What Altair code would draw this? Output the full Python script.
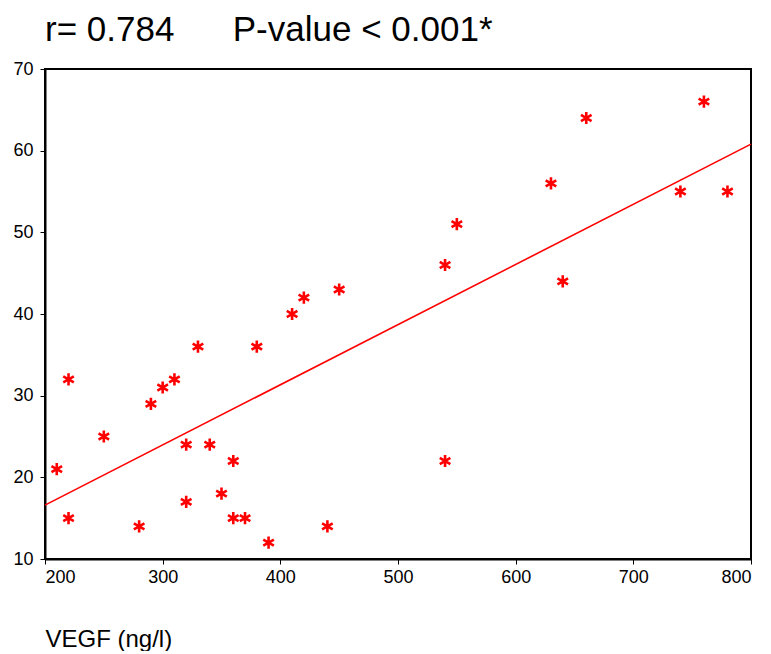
import altair as alt
import pandas as pd

vegf = [210, 220, 220, 250, 280, 290, 300, 310, 320, 320, 330, 340, 350, 360, 360,
        370, 380, 390, 410, 420, 440, 450, 540, 540, 550, 630, 640, 660, 740, 760, 780]
yval = [21, 32, 15, 25, 14, 29, 31, 32, 24, 17, 36, 24, 18, 22, 15,
        15, 36, 12, 40, 42, 14, 43, 46, 22, 51, 56, 44, 64, 55, 66, 55]

# fitted line
fit_x = [200, 800]
fit_y = [16.6, 60.8]

df = pd.DataFrame({"VEGF": vegf, "Y": yval})
fit = pd.DataFrame({"VEGF": fit_x, "Y": fit_y})

FONT = "Liberation Sans"
star = "M0,-1L0,1M-0.866,-0.5L0.866,0.5M-0.866,0.5L0.866,-0.5"

xs = alt.X("VEGF:Q", scale=alt.Scale(domain=[200, 800], nice=False, zero=False),
           axis=alt.Axis(values=[200, 300, 400, 500, 600, 700, 800], title="VEGF (ng/l)",
                         titleAnchor="start", titleAlign="left", titlePadding=41,
                         titleFontSize=24, titleFontWeight="normal", titleFont=FONT,
                         titleColor="black", labelFontSize=18, labelFont=FONT,
                         labelColor="black", tickSize=5, labelPadding=4,
                         domainColor="black", tickColor="black", grid=False))
ys = alt.Y("Y:Q", scale=alt.Scale(domain=[10, 70], nice=False, zero=False),
           axis=alt.Axis(values=[10, 20, 30, 40, 50, 60, 70], title=None,
                         labelFontSize=18, labelFont=FONT, labelColor="black",
                         tickSize=5, labelPadding=7, domainColor="black",
                         tickColor="black", grid=False))

pts = alt.Chart(df).mark_point(shape=star, filled=False, stroke="#ff0000",
                               strokeWidth=2.6, size=150, opacity=1).encode(x=xs, y=ys)

line = alt.Chart(fit).mark_line(color="#ff0000", strokeWidth=1.6).encode(x=xs, y=ys)

chart = (line + pts).properties(
    width=706, height=490,
    padding={"left": 4, "top": 5, "right": 5, "bottom": 0},
    title=alt.TitleParams("r= 0.784\u00a0\u00a0\u00a0\u00a0\u00a0\u00a0P-value < 0.001*",
                          anchor="start", frame="group", fontSize=35, font=FONT,
                          fontWeight="normal", color="black", offset=12),
).configure_view(stroke="black", strokeWidth=2).configure_axis(domainWidth=2)

chart.save("out.html", embed_options={"renderer": "svg", "actions": False})
